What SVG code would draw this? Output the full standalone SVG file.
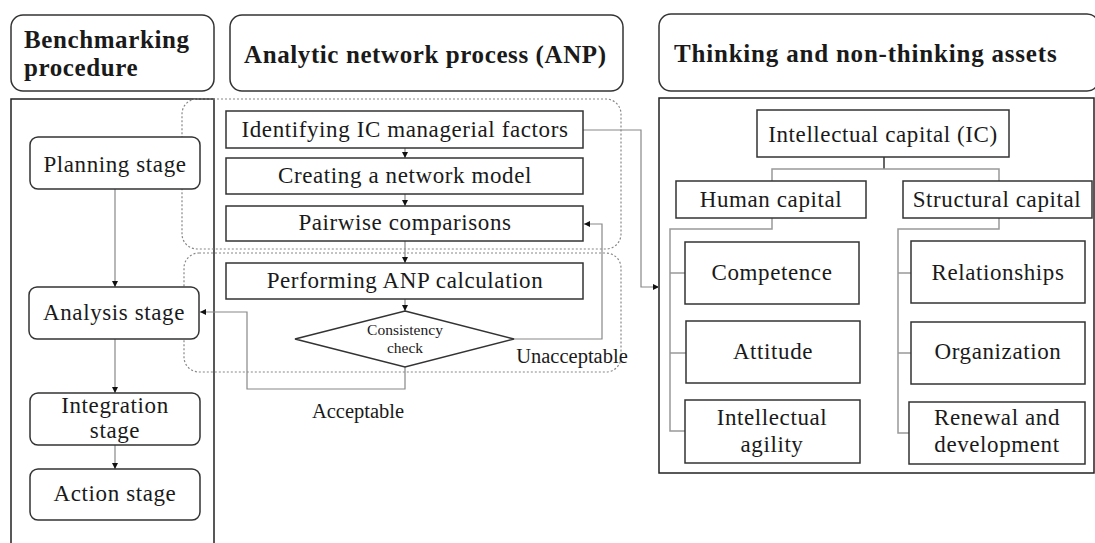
<svg xmlns="http://www.w3.org/2000/svg" width="1095" height="543" viewBox="0 0 1095 543">
<style>
text{font-family:"Liberation Serif","Times New Roman",serif;fill:#1a1a1a;text-anchor:middle}
.h{font-weight:bold;font-size:25px;text-anchor:start;letter-spacing:0.6px}
.t{font-size:23px;letter-spacing:0.6px}
.s{font-size:20.5px}
.c{font-size:15.5px}
.hdr{fill:#fff;stroke:#333;stroke-width:1.5}
.box{fill:#fff;stroke:#333;stroke-width:1.5}
.frame{fill:none;stroke:#222;stroke-width:1.5}
.dot{fill:none;stroke:#888;stroke-width:1.2;stroke-dasharray:2 2}
.ln{fill:none;stroke:#888;stroke-width:1.2}
.tr{fill:none;stroke:#999;stroke-width:1.5}
.blk{fill:none;stroke:#333;stroke-width:1.5}
</style>
<defs>
<marker id="ar" viewBox="0 0 10 10" refX="10" refY="5" markerWidth="6" markerHeight="6" orient="auto" markerUnits="userSpaceOnUse">
<path d="M0 0 L10 5 L0 10 z" fill="#111"/>
</marker>
</defs>
<rect width="1095" height="543" fill="#fff"/>

<!-- headers -->
<g id="hdr-bench"><rect class="hdr" x="11" y="15" width="203" height="76" rx="12"/>
<text class="h" x="24" y="48">Benchmarking</text><text class="h" x="24" y="76">procedure</text></g>
<g id="hdr-anp"><rect class="hdr" x="230" y="15" width="393" height="76" rx="12"/>
<text class="h" x="244" y="63">Analytic network process (ANP)</text></g>
<g id="hdr-assets"><rect class="hdr" x="659" y="14" width="440" height="77" rx="12"/>
<text class="h" x="674" y="62" style="letter-spacing:0.8px">Thinking and non-thinking assets</text></g>

<!-- containers -->
<path class="frame" d="M11 545 V99 H214 V545"/>
<rect class="frame" x="659" y="98" width="435" height="375"/>
<rect class="dot" x="182" y="99" width="439" height="150" rx="15"/>
<rect class="dot" x="184" y="253" width="437" height="119" rx="15"/>

<!-- connectors -->
<g id="connectors">
<path class="ln" d="M115 189 V287" marker-end="url(#ar)"/>
<path class="ln" d="M115 339 V393" marker-end="url(#ar)"/>
<path class="ln" d="M115 445 V469" marker-end="url(#ar)"/>
<path class="ln" d="M405 148 V158" marker-end="url(#ar)"/>
<path class="ln" d="M405 194 V206" marker-end="url(#ar)"/>
<path class="ln" d="M405 241 V263" marker-end="url(#ar)"/>
<path class="ln" d="M405 299 V311" marker-end="url(#ar)"/>
<path class="ln" d="M514 339 H602 V224 H584" marker-end="url(#ar)"/>
<path class="ln" d="M405 367 V389 H247 V312 H200" marker-end="url(#ar)"/>
<path class="ln" d="M583 130 H641 V287 H659" marker-end="url(#ar)"/>
<path class="blk" d="M884 157 V169"/>
<path class="tr" d="M772 181 V169 H999 V181"/>
<path class="tr" d="M772 218 V229 H670 V431 H685 M670 273 H685 M670 353 H686"/>
<path class="tr" d="M999 218 V229 H898 V433 H909 M898 273 H911 M898 353 H911"/>
</g>

<!-- left stages -->
<g id="planning"><rect class="box" x="30" y="137" width="170" height="52" rx="8"/><text class="t" x="115" y="172">Planning stage</text></g>
<g id="analysis"><rect class="box" x="29" y="287" width="170" height="52" rx="8"/><text class="t" x="114" y="320">Analysis stage</text></g>
<g id="integration"><rect class="box" x="30" y="393" width="170" height="52" rx="8"/><text class="t" x="115" y="413">Integration</text><text class="t" x="115" y="438">stage</text></g>
<g id="action"><rect class="box" x="30" y="469" width="170" height="51" rx="8"/><text class="t" x="115" y="501">Action stage</text></g>

<!-- ANP steps -->
<g id="identify"><rect class="box" x="226" y="111" width="357" height="37"/><text class="t" x="405" y="137">Identifying IC managerial factors</text></g>
<g id="network"><rect class="box" x="226" y="158" width="357" height="36"/><text class="t" x="405" y="183">Creating a network model</text></g>
<g id="pairwise"><rect class="box" x="226" y="206" width="357" height="35"/><text class="t" x="405" y="230">Pairwise comparisons</text></g>
<g id="perform"><rect class="box" x="226" y="263" width="357" height="36"/><text class="t" x="405" y="288">Performing ANP calculation</text></g>
<g id="consistency"><path class="box" d="M405 311 L514 339 L405 367 L295 339 Z"/><text class="c" x="405" y="335">Consistency</text><text class="c" x="405" y="353">check</text></g>
<text class="s" x="572" y="363">Unacceptable</text>
<text class="s" x="358" y="418">Acceptable</text>

<!-- IC tree -->
<g id="ic"><rect class="box" x="757" y="110" width="252" height="47"/><text class="t" x="883" y="142">Intellectual capital (IC)</text></g>
<g id="human"><rect class="box" x="676" y="181" width="190" height="37"/><text class="t" x="771" y="207">Human capital</text></g>
<g id="structural"><rect class="box" x="903" y="181" width="189" height="37"/><text class="t" x="997" y="207">Structural capital</text></g>
<g id="competence"><rect class="box" x="685" y="242" width="174" height="62"/><text class="t" x="772" y="280">Competence</text></g>
<g id="attitude"><rect class="box" x="686" y="321" width="174" height="62"/><text class="t" x="773" y="359">Attitude</text></g>
<g id="agility"><rect class="box" x="685" y="400" width="175" height="63"/><text class="t" x="772" y="425">Intellectual</text><text class="t" x="772" y="452">agility</text></g>
<g id="relationships"><rect class="box" x="911" y="241" width="174" height="62"/><text class="t" x="998" y="280">Relationships</text></g>
<g id="organization"><rect class="box" x="911" y="322" width="174" height="62"/><text class="t" x="998" y="359">Organization</text></g>
<g id="renewal"><rect class="box" x="909" y="402" width="176" height="62"/><text class="t" x="997" y="425">Renewal and</text><text class="t" x="997" y="452">development</text></g>
</svg>
